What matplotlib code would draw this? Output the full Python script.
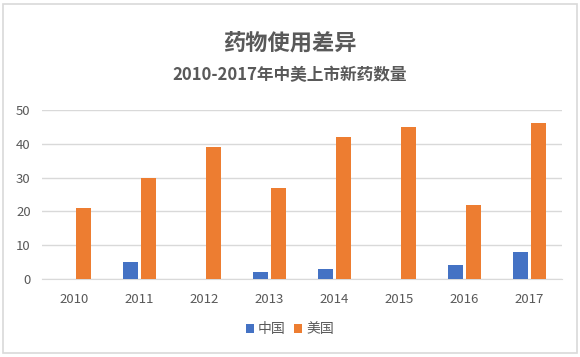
import matplotlib.pyplot as plt
import numpy as np
from matplotlib.patches import Rectangle

plt.rcParams['font.family'] = ['Noto Sans CJK SC', 'DejaVu Sans']

# data
years = ['2010', '2011', '2012', '2013', '2014', '2015', '2016', '2017']
china = [0, 5, 0, 2, 3, 0, 4, 8]
usa = [21, 30, 39, 27, 42, 45, 22, 46]

fig = plt.figure(figsize=(5.8, 3.57), dpi=100)
# outer frame
fig.patches.append(Rectangle((0.006, 0.012), 0.988, 0.976, transform=fig.transFigure,
                             fill=False, edgecolor='#d9d9d9', linewidth=1.2))

ax = fig.add_axes([0.072, 0.2185, 0.897, 0.4735])
x = np.arange(len(years))
w = 0.23
ax.bar(x - w/2 - 0.025, china, w, color='#4472C4', label='中国', zorder=3)
ax.bar(x + w/2 + 0.025, usa, w, color='#ED7D31', label='美国', zorder=3)

ax.set_xlim(-0.5, len(years) - 0.5)
ax.set_ylim(0, 50)
ax.set_yticks(range(0, 51, 10))
ax.set_xticks(x)
ax.set_xticklabels(years)
ax.grid(axis='y', color='#d9d9d9', linewidth=1, zorder=0)
for s in ['top', 'right', 'left']:
    ax.spines[s].set_visible(False)
ax.spines['bottom'].set_color('#d9d9d9')
ax.tick_params(axis='both', length=0, colors='#595959', labelsize=9.5)
ax.tick_params(axis='x', pad=10)
ax.tick_params(axis='y', pad=8)

fig.text(0.5, 0.88, '药物使用差异', ha='center', va='center', fontsize=16,
         fontweight='bold', color='#595959')
fig.text(0.5, 0.79, '2010-2017年中美上市新药数量', ha='center', va='center',
         fontsize=12, fontweight='bold', color='#595959')

leg = fig.legend(loc='center', bbox_to_anchor=(0.5, 0.078), ncol=2, frameon=False,
                 fontsize=10, handlelength=0.6, handleheight=0.6, handletextpad=0.3,
                 columnspacing=0.6)
for t in leg.get_texts():
    t.set_color('#595959')

fig.savefig('out.png', dpi=100)
